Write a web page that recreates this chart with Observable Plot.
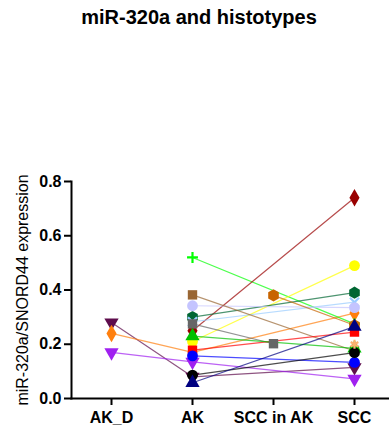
<!DOCTYPE html>
<html>
<head>
<meta charset="utf-8">
<script src="https://cdn.jsdelivr.net/npm/d3@7"></script>
<script src="https://cdn.jsdelivr.net/npm/@observablehq/plot@0.6"></script>
<style>
  html, body { margin: 0; padding: 0; background: #fff; }
  #title { width: 389px; height: 30px; box-sizing: border-box; padding: 5px 0 0 9px; text-align: center;
    font: bold 20px "Liberation Sans", Arial, sans-serif; line-height: 24px; color: #000; }
  svg { display: block; }
</style>
</head>
<body>
<div id="title">miR-320a and histotypes</div>
<div id="chart"></div>
<script>
// categories and per-series values [AK_D, AK, SCC in AK, SCC]
const categories = ["AK_D", "AK", "SCC in AK", "SCC"];
const yTicks = [0.0, 0.2, 0.4, 0.6, 0.8];
const yLabel = "miR-320a/SNORD44 expression";

const s01 = [0.28, 0.08, null, 0.115];
const s02 = [0.24, 0.17, null, 0.315];
const s03 = [0.17, 0.135, null, 0.072];
const s04 = [null, 0.52, null, 0.275];
const s05 = [null, 0.25, null, 0.74];
const s06 = [null, 0.21, null, 0.49];
const s07 = [null, 0.30, null, 0.39];
const s08 = [null, 0.283, null, 0.355];
const s09 = [null, 0.342, null, 0.335];
const s10 = [null, 0.382, null, 0.175];
const s11 = [null, 0.275, 0.202, null];
const s12 = [null, null, 0.38, 0.27];
const s13 = [null, 0.178, null, 0.245];
const s14 = [null, 0.23, null, 0.185];
const s15 = [null, 0.157, null, 0.133];
const s16 = [null, 0.086, null, 0.169];
const s17 = [null, 0.058, null, 0.265];
const s18 = [null, null, null, 0.2];

const seriesValues = [s01, s02, s03, s04, s05, s06, s07, s08, s09, s10, s11, s12, s13, s14, s15, s16, s17, s18];

// styles
const seriesColors = ["#5e0c4c", "#ff7f0e", "#a020f0", "#00ff00", "#990000", "#ffff00", "#006633", "#99ccff",
  "#c4c4ff", "#996633", "#666666", "#c86400", "#ff0000", "#00c000", "#0000ff", "#000000", "#000080", "#ffb070"];

const triangleDown = {
  draw(context, size) {
    const s = Math.sqrt(size * 4 / Math.sqrt(3));
    const h = s * Math.sqrt(3) / 2;
    context.moveTo(0, h * 2 / 3);
    context.lineTo(-s / 2, -h / 3);
    context.lineTo(s / 2, -h / 3);
    context.closePath();
  }
};
const seriesSymbols = [triangleDown, "diamond", triangleDown, "plus", "diamond", "circle", "hexagon", "times",
  "circle", "square", "square", "hexagon", "square", "triangle", "circle", "circle", "triangle", "asterisk"];
const strokeSymbols = new Set(["plus", "times", "asterisk"]);

const seriesRows = seriesValues.map((vals, i) =>
  vals.map((v, j) => ({series: i, cat: categories[j], value: v})).filter(d => d.value != null));

const marks = [];
seriesRows.forEach((rows, i) => {
  marks.push(Plot.line(rows, {x: "cat", y: "value", stroke: seriesColors[i], strokeOpacity: 0.7, strokeWidth: 1.2}));
});
seriesRows.forEach((rows, i) => {
  const sym = seriesSymbols[i];
  if (typeof sym === "string" && strokeSymbols.has(sym)) {
    marks.push(Plot.dot(rows, {x: "cat", y: "value", symbol: sym, r: sym === "plus" ? 3.6 : 4.2, stroke: seriesColors[i], strokeWidth: 2.2, fill: "none"}));
  } else {
    marks.push(Plot.dot(rows, {x: "cat", y: "value", symbol: sym, r: sym === "circle" ? 5.4 : 5.3, fill: seriesColors[i], stroke: "none"}));
  }
});

const chart = Plot.plot({
  width: 389,
  height: 404,
  marginTop: 151,
  marginBottom: 36,
  marginLeft: 71,
  marginRight: 1,
  style: {fontFamily: "'Liberation Sans', Arial, sans-serif", color: "#000", background: "#fff"},
  x: {type: "point", domain: categories, range: [110, 355], padding: 0},
  y: {domain: [0, 0.8]},
  marks: [
    ...marks,
    Plot.frame({anchor: "left", stroke: "#000", strokeWidth: 2}),
    Plot.frame({anchor: "bottom", stroke: "#000", strokeWidth: 2}),
    Plot.axisY({ticks: yTicks, tickFormat: d => d.toFixed(1), tickSize: 7, tickPadding: 3, strokeWidth: 2,
      fontSize: 16, fontWeight: "bold", label: null}),
    Plot.axisX({tickSize: 7, tickPadding: 6, strokeWidth: 2, fontSize: 16, fontWeight: "bold", label: null}),
    Plot.text([yLabel], {frameAnchor: "left", rotate: -90, dx: -49, textAnchor: "middle", fontSize: 16, fill: "#000"})
  ]
});
document.getElementById("chart").appendChild(chart);
</script>
</body>
</html>
